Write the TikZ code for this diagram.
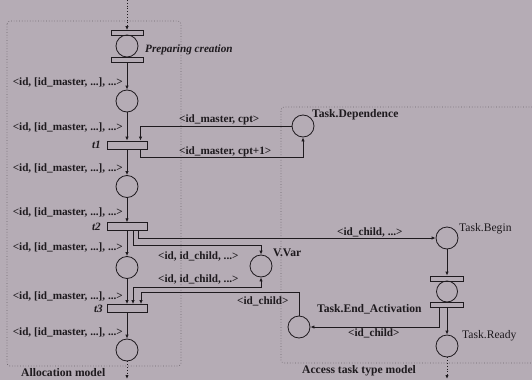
\documentclass[tikz,border=0pt]{standalone}
\usepackage{fontspec}
\setmainfont{Liberation Serif}
\usetikzlibrary{arrows.meta,calc}
\definecolor{paper}{HTML}{B5ACB5}
\definecolor{ink}{HTML}{1E1A1E}
\definecolor{frame}{HTML}{6E666E}

\begin{document}
\begin{tikzpicture}[x=1pt,y=-1pt,
  pplace/.style={circle,draw=ink,line width=0.8pt,minimum size=22pt,inner sep=0pt},
  tbar/.style={rectangle,draw=ink,line width=0.8pt,inner sep=0pt,minimum width=40pt,minimum height=8pt},
  sbar/.style={tbar,minimum width=32pt,minimum height=5pt},
  flow/.style={draw=ink,line width=0.8pt,-{Latex[length=4pt,width=3.4pt]}},
  biflow/.style={draw=ink,line width=0.8pt,{Latex[length=4pt,width=3.4pt]}-{Latex[length=4pt,width=3.4pt]}},
  outflow/.style={flow,dotted,line width=0.9pt},
  zone/.style={draw=frame,dotted,line width=0.7pt,rounded corners=3pt},
  lbl/.style={font=\fontsize{11.2}{12}\selectfont\bfseries,inner sep=0pt,text=ink},
  pname/.style={font=\fontsize{11.6}{12}\selectfont\bfseries,inner sep=0pt,text=ink},
  ptext/.style={font=\fontsize{11.6}{12}\selectfont,inner sep=0pt,text=ink},
  tname/.style={font=\fontsize{11.2}{12}\selectfont\bfseries\itshape,inner sep=0pt,text=ink}
]
\useasboundingbox (0,0) rectangle (532,380);
\fill[paper] (0,0) rectangle (532,380);

% model frames
\draw[zone] (7,21) rectangle (181,366);
\draw[zone] (532,107) -- (281,107) -- (281,363) -- (532,363);

% allocation model: places and transitions
\node[sbar] (pcTop) at (127,33) {};
\node[pplace] (pc) at (127,46) {};
\node[sbar] (pcBot) at (127,59.5) {};
\node[pplace] (p1) at (127,101) {};
\node[tbar] (t1) at (127,145) {};
\node[pplace] (p2) at (127,186.5) {};
\node[tbar] (t2) at (127,226.7) {};
\node[pplace] (p3) at (127,267.5) {};
\node[tbar] (t3) at (127,308.5) {};
\node[pplace] (p4) at (127,350) {};

% shared places
\node[pplace] (td) at (303,126) {};
\node[pplace] (vv) at (261,266) {};

% access task type model
\node[pplace] (tb) at (447,238) {};
\node[sbar,minimum width=33pt] (cTop) at (447,278.5) {};
\node[pplace,minimum size=21pt] (cc) at (447,291.5) {};
\node[sbar,minimum width=33pt] (cBot) at (447,304.5) {};
\node[pplace] (tea) at (299,327) {};
\node[pplace] (tr) at (447,346) {};

\coordinate (inTop) at (127,0);
\coordinate (outL) at (127,379);
\coordinate (outR) at (447,379);

% main flow
\draw[outflow] (inTop) -- (pcTop.north);
\draw[flow] (pcBot.south) -- (p1.north);
\draw[flow] (p1.south) -- (t1.north);
\draw[flow] (t1.south) -- (p2.north);
\draw[flow] (p2.south) -- (t2.north);
\draw[flow] (t2.south) -- (p3.north);
\draw[flow] (p3.south) -- (t3.north);
\draw[flow] (t3.south) -- (p4.north);
\draw[outflow] (p4.south) -- (outL);

% dependence counter
\draw[flow] (td.west) -| ($(t1.north)+(13.5,0)$);
\draw[flow] ($(t1.south)+(13.5,0)$) -- ++(0,7.5) -| (td.south);

% child creation
\draw[flow] ($(t2.south)+(11,0)$) |- (tb.west);
\draw[flow] ($(t2.south)+(6,0)$) -- ++(0,14) -| (vv.north);
\draw[biflow] (vv.south) -- ++(0,10) -| ($(t3.north)+(6,0)$);
\draw[flow] (tea.north) -- ++(0,-23) -| ($(t3.north)+(14,0)$);

% task activation
\draw[flow] (tb.south) -- (cTop.north);
\draw[flow] ($(cBot.south)+(-8,0)$) |- (tea.east);
\draw[flow] (cBot.south) -- (tr.north);
\draw[outflow] (tr.south) -- (outR);

% labels
\node[tname,anchor=west] (lPrep) at (145,50) {Preparing creation};
\node[tname,anchor=east] (lt1) at (101,145) {t1};
\node[tname,anchor=east] (lt2) at (101,226.5) {t2};
\node[tname,anchor=east] (lt3) at (103,309) {t3};

\node[lbl,anchor=east] (a1) at (123,82) {<id, [id\_master, ...], ...>};
\node[lbl,anchor=east] (a2) at (123,127) {<id, [id\_master, ...], ...>};
\node[lbl,anchor=east] (a3) at (123,168) {<id, [id\_master, ...], ...>};
\node[lbl,anchor=east] (a4) at (123,212) {<id, [id\_master, ...], ...>};
\node[lbl,anchor=east] (a5) at (123,247) {<id, [id\_master, ...], ...>};
\node[lbl,anchor=east] (a6) at (123,296) {<id, [id\_master, ...], ...>};
\node[lbl,anchor=east] (a7) at (123,332) {<id, [id\_master, ...], ...>};

\node[lbl,anchor=west] (bCpt) at (179,120) {<id\_master, cpt>};
\node[lbl,anchor=west] (bCpt1) at (179,152) {<id\_master, cpt+1>};
\node[lbl,anchor=west] (bChild) at (337,232) {<id\_child, ...>};
\node[lbl,anchor=west] (bVar1) at (158,256) {<id, id\_child, ...>};
\node[lbl,anchor=west] (bVar2) at (158,279) {<id, id\_child, ...>};
\node[lbl,anchor=west] (bEnd1) at (237,301) {<id\_child>};
\node[lbl,anchor=west] (bEnd2) at (348,333) {<id\_child>};

\node[pname,anchor=west] (nTD) at (312,115) {Task.Dependence};
\node[pname,anchor=west] (nVV) at (273,253) {V.Var};
\node[ptext,anchor=west] (nTB) at (459,229) {Task.Begin};
\node[ptext,anchor=west] (nTR) at (462,336) {Task.Ready};
\node[pname,anchor=west] (nTEA) at (317,309) {Task.End\_Activation};
\node[pname,anchor=west] (mAlloc) at (21,373) {Allocation model};
\node[pname,anchor=west] (mAccess) at (302,371) {Access task type model};
\end{tikzpicture}
\end{document}
